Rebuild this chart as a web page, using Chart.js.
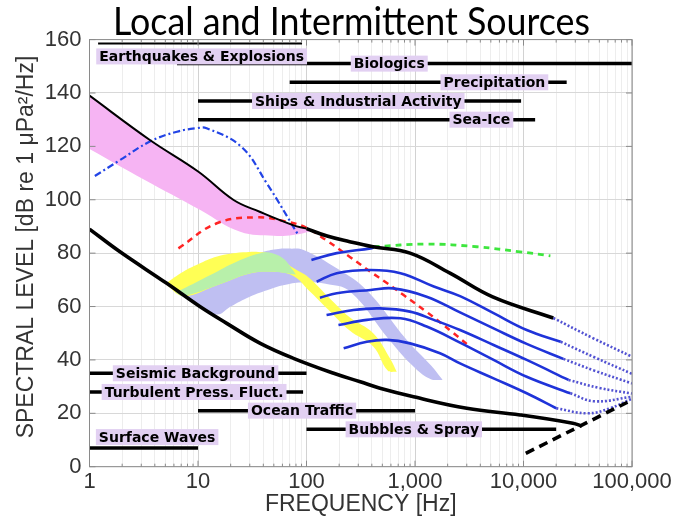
<!DOCTYPE html>
<html lang="en">
<head>
<meta charset="UTF-8">
<title>Local and Intermittent Sources</title>
<script src="https://cdn.jsdelivr.net/npm/chart.js"></script>
<style>
  html, body { margin: 0; padding: 0; background: #fff; }
  #wrap { width: 684px; height: 523px; }
</style>
</head>
<body>
<div id="wrap"><canvas id="wenz" width="684" height="523"></canvas></div>
<script>
// axis ticks
const xTickValues = [1, 10, 100, 1000, 10000, 100000];
const xTickLabels = ['1', '10', '100', '1,000', '10,000', '100,000'];
const yTickValues = [0, 20, 40, 60, 80, 100, 120, 140, 160];

// source bars (name, level dB, from Hz, to Hz)
const barNames = ['Earthquakes & Explosions', 'Biologics', 'Precipitation', 'Ships & Industrial Activity', 'Sea-Ice',
                  'Seismic Background', 'Turbulent Press. Fluct.', 'Ocean Traffic', 'Bubbles & Spray', 'Surface Waves'];
const barLevel = [158.5, 151, 144, 137, 130, 35, 28, 21, 14, 7];
const barFrom  = [1.2, 6.4, 70, 10, 10, 1, 1, 10, 100, 1];
const barTo    = [91, 100000, 25000, 9500, 12800, 100, 93, 1000, 20000, 10];
// where each bar's label sits (Hz, dB)
const labelFreq  = [10.8, 579, 5390, 300, 4090, 9.5, 9.2, 91, 975, 4.2];
const labelLevel = [153.7, 151, 144, 137, 130, 35, 28, 21, 14, 11.1];

// limits of prevailing noise (black curves)
const upperThinFreq  = [1, 3.6, 10.1, 21.3, 37, 75, 100];
const upperThinLevel = [139, 122.4, 110.5, 99.9, 95.5, 90.5, 89.2];
const upperFreq  = [100, 155, 250, 410, 900, 2100, 5200, 18800];
const upperLevel = [89.2, 86.4, 84.3, 82.4, 80, 72.5, 63.6, 55.7];
const upperDotFreq  = [18800, 44000, 100000];
const upperDotLevel = [55.7, 48.1, 41.2];
const lowerFreq  = [1, 1.91, 5.15, 10.4, 18.4, 37.5, 75.8, 178, 313, 476, 970, 3000, 9300, 28500, 34500];
const lowerLevel = [89, 80.5, 68.7, 60, 53.7, 46.2, 40.6, 35, 31.8, 29.4, 26.2, 21.9, 19.4, 16.3, 15.2];
const thermalFreq  = [10500, 100000];
const thermalLevel = [5, 25];

// pink band
const pinkTopFreq  = [1, 3.6, 10.1, 21.3, 37, 75, 100, 116];
const pinkTopLevel = [139, 122.4, 110.5, 99.9, 95.5, 90.5, 89.2, 88.4];
const pinkBotFreq  = [1, 3.2, 10.5, 24.5, 50, 75, 116];
const pinkBotLevel = [119, 107.5, 96.2, 88, 86.5, 86.8, 88.4];

// lavender band
const lavTopFreq  = [6.1, 7, 13, 22.7, 40, 55, 70, 94, 190, 360, 840, 1400, 1800];
const lavTopLevel = [65.5, 66.3, 71.8, 76.8, 80.5, 81.6, 81.7, 81.2, 74.3, 66, 47.5, 38, 32.5];
const lavBotFreq  = [6.1, 10, 15, 20, 30, 46, 61, 90, 150, 253, 580, 1000, 1400, 1800];
const lavBotLevel = [65.5, 60.5, 57, 60, 63.7, 66.5, 68, 69, 68.5, 65.5, 47.5, 37, 32.8, 32.5];

// yellow band
const yelTopFreq  = [5, 7.3, 10, 15, 26, 40, 55, 75, 104, 160, 250, 412, 600, 680];
const yelTopLevel = [68.5, 73, 75.8, 78.7, 80.3, 80.3, 78.5, 74.5, 71, 63.5, 56, 50, 40, 35.5];
const yelBotFreq  = [5, 7.3, 15, 30, 50, 75, 104, 160, 250, 412, 560, 680];
const yelBotLevel = [68.5, 64, 68, 72.4, 73, 71.5, 66.2, 58.7, 51, 45, 36, 35.5];

// green band (overlap)
const grnTopFreq  = [6.1, 7, 13, 22.7, 40, 50, 62, 72, 80];
const grnTopLevel = [65.5, 66.3, 71.8, 76.8, 80.2, 79.8, 77.8, 74.5, 72];
const grnBotFreq  = [6.1, 7.3, 15, 30, 50, 65, 80];
const grnBotLevel = [65.5, 64, 68, 72.4, 73, 72.5, 72];

// dashed curves
const redFreq  = [6.6, 14.9, 34.8, 66, 100, 150, 253, 390, 555, 785, 1280, 2270, 3200];
const redLevel = [81.8, 91.2, 93.4, 91.8, 89.5, 85, 78.5, 73, 68.7, 64.3, 58, 50, 45];
const dashDotFreq  = [1.12, 1.9, 3.6, 6.4, 9.7, 12, 25, 43, 84];
const dashDotLevel = [108.9, 114.8, 121.8, 125.5, 126.8, 126.8, 119.9, 106.2, 86.8];
const greenFreq  = [415, 1280, 3700, 9300, 17700];
const greenLevel = [82.4, 83.4, 82.4, 80.5, 79];

// wind-dependent blue curves
const blue1Freq = [111, 190, 390, 420];
const blue1Level = [77.4, 80, 81.8, 82.2];
const blue2Freq = [124, 190, 390, 735, 1490, 2600, 5300, 10700, 22000];
const blue2Level = [69.3, 72.5, 73.7, 72.5, 67.5, 63.9, 57.5, 51.2, 46.8];
const blue2DotFreq = [22000, 45000, 100000];
const blue2DotLevel = [46.8, 41, 34.8];
const blue3Freq = [133, 190, 390, 630, 1280, 2600, 5300, 10700, 23300];
const blue3Level = [63.3, 65, 66.2, 66.8, 63.7, 57.8, 51.8, 46, 40.4];
const blue3DotFreq = [23300, 45000, 100000];
const blue3DotLevel = [40.4, 36, 31.2];
const blue4Freq = [153, 271, 475, 900, 1490, 2600, 5300, 10700, 26000];
const blue4Level = [56.8, 58.7, 59.3, 58.1, 55, 51.2, 45.6, 40, 32.5];
const blue4DotFreq = [26000, 50000, 100000];
const blue4DotLevel = [32.5, 29.5, 27.4];
const blue5Freq = [197, 360, 735, 1280, 2600, 5300, 10700, 27000];
const blue5Level = [53.1, 55, 55.6, 52.5, 46.5, 40, 33.7, 27.5];
const blue5DotFreq = [27000, 45000, 100000];
const blue5DotLevel = [27.5, 24.5, 26.2];
const blue6Freq = [220, 360, 550, 900, 1700, 2600, 5300, 10700, 20000];
const blue6Level = [44.4, 46.8, 47.5, 46.2, 42.5, 38.7, 33.1, 27.5, 21.9];
const blue6DotFreq = [20000, 39000, 63000, 100000];
const blue6DotLevel = [21.9, 20, 21.9, 25.5];

function pts(f, l) {
    return f.map((v, i) => ({ x: v, y: l[i] }));
}

function curve(f, l, color, width, dash, order) {
    return {
        data: pts(f, l), borderColor: color, borderWidth: width, borderDash: dash || [],
        pointRadius: 0, fill: false, tension: 0.4, order: order
    };
}

// two datasets, the first fills down to the second
function band(ft, lt, fb, lb, color, order) {
    return [
        { data: pts(ft, lt), borderWidth: 0, borderColor: 'rgba(0,0,0,0)', backgroundColor: color,
          pointRadius: 0, fill: '+1', tension: 0.4, order: order },
        { data: pts(fb, lb), borderWidth: 0, borderColor: 'rgba(0,0,0,0)',
          pointRadius: 0, fill: false, tension: 0.4, order: order }
    ];
}

const BLUE = '#1f33d9';
const DOTS = '#5252d2';

const datasets = [];
datasets.push(...band(pinkTopFreq, pinkTopLevel, pinkBotFreq, pinkBotLevel, '#f6b4f3', 100));
datasets.push(...band(lavTopFreq, lavTopLevel, lavBotFreq, lavBotLevel, '#bfbff2', 90));
datasets.push(...band(yelTopFreq, yelTopLevel, yelBotFreq, yelBotLevel, '#ffff55', 80));
datasets.push(...band(grnTopFreq, grnTopLevel, grnBotFreq, grnBotLevel, '#b8f0aa', 70));

barNames.forEach((n, i) => {
    datasets.push({
        data: [{ x: barFrom[i], y: barLevel[i] }, { x: barTo[i], y: barLevel[i] }],
        borderColor: '#000', borderWidth: i === 0 ? 2 : 3.5, pointRadius: 0, fill: false, order: 60
    });
});

datasets.push(curve(redFreq, redLevel, '#ff2424', 2.5, [6, 5], 50));
datasets.push(curve(dashDotFreq, dashDotLevel, '#2244e6', 2.2, [7, 3, 2, 3], 50));
datasets.push(curve(greenFreq, greenLevel, '#3ee63e', 2.8, [6, 5], 45));

datasets.push(curve(blue1Freq, blue1Level, BLUE, 2.6, null, 40));
datasets.push(curve(blue2Freq, blue2Level, BLUE, 2.6, null, 40));
datasets.push(curve(blue3Freq, blue3Level, BLUE, 2.6, null, 40));
datasets.push(curve(blue4Freq, blue4Level, BLUE, 2.6, null, 40));
datasets.push(curve(blue5Freq, blue5Level, BLUE, 2.6, null, 40));
datasets.push(curve(blue6Freq, blue6Level, BLUE, 2.6, null, 40));
datasets.push(curve(upperDotFreq, upperDotLevel, DOTS, 2.6, [2, 2], 40));
datasets.push(curve(blue2DotFreq, blue2DotLevel, DOTS, 2.6, [2, 2], 40));
datasets.push(curve(blue3DotFreq, blue3DotLevel, DOTS, 2.6, [2, 2], 40));
datasets.push(curve(blue4DotFreq, blue4DotLevel, DOTS, 2.6, [2, 2], 40));
datasets.push(curve(blue5DotFreq, blue5DotLevel, DOTS, 2.6, [2, 2], 40));
datasets.push(curve(blue6DotFreq, blue6DotLevel, DOTS, 2.6, [2, 2], 40));

datasets.push(curve(upperThinFreq, upperThinLevel, '#000', 2, null, 30));
datasets.push(curve(upperFreq, upperLevel, '#000', 3.6, null, 30));
datasets.push(curve(lowerFreq, lowerLevel, '#000', 3.6, null, 30));
datasets.push(curve(thermalFreq, thermalLevel, '#000', 3.6, [9, 6], 30));

// box, inner ticks, labels and titles
const decorations = {
    id: 'decorations',
    afterDatasetsDraw(chart) {
        const { ctx, chartArea: a, scales: { x, y } } = chart;
        ctx.save();
        // bar labels
        ctx.font = 'bold 14px "DejaVu Sans"';
        ctx.textAlign = 'center';
        ctx.textBaseline = 'middle';
        barNames.forEach((n, i) => {
            const cx = x.getPixelForValue(labelFreq[i]);
            const cy = y.getPixelForValue(labelLevel[i]);
            const w = ctx.measureText(n).width + 6;
            ctx.fillStyle = '#e2d0f2';
            ctx.fillRect(cx - w / 2, cy - 8, w, 16);
            ctx.fillStyle = '#000';
            ctx.fillText(n, cx, cy + 1);
        });
        // frame and inward ticks
        ctx.strokeStyle = '#8a8a8a';
        ctx.lineWidth = 1;
        ctx.strokeRect(a.left, a.top, a.right - a.left, a.bottom - a.top);
        ctx.beginPath();
        x.ticks.forEach(t => {
            const px = x.getPixelForValue(t.value);
            const len = xTickValues.includes(t.value) ? 6 : 3;
            ctx.moveTo(px, a.bottom); ctx.lineTo(px, a.bottom - len);
            ctx.moveTo(px, a.top); ctx.lineTo(px, a.top + len);
        });
        yTickValues.forEach(v => {
            const py = y.getPixelForValue(v);
            ctx.moveTo(a.left, py); ctx.lineTo(a.left + 6, py);
            ctx.moveTo(a.right, py); ctx.lineTo(a.right - 6, py);
        });
        ctx.stroke();
        ctx.restore();
    },
    afterDraw(chart) {
        const { ctx, chartArea: a } = chart;
        ctx.save();
        ctx.fillStyle = '#333';
        ctx.font = '23px "Liberation Sans"';
        ctx.textAlign = 'center';
        ctx.textBaseline = 'middle';
        ctx.fillText('FREQUENCY [Hz]', (a.left + a.right) / 2, 505);
        ctx.translate(27, 247);
        ctx.rotate(-Math.PI / 2);
        ctx.fillText('SPECTRAL LEVEL [dB re 1 \u03bcPa\u00b2/Hz]', 0, 0);
        ctx.restore();
        // slide title
        ctx.save();
        ctx.font = '38px Lato';
        ctx.fillStyle = '#000';
        ctx.textBaseline = 'alphabetic';
        const t = 'Local and Intermittent Sources';
        const sx = 477 / ctx.measureText(t).width;
        ctx.translate(113, 35);
        ctx.scale(sx, 1);
        ctx.fillText(t, 0, 0);
        ctx.restore();
    }
};

new Chart(document.getElementById('wenz'), {
    type: 'line',
    data: { datasets: datasets },
    options: {
        responsive: false,
        animation: false,
        devicePixelRatio: 1,
        layout: { padding: { left: 0, right: 52, top: 39.6, bottom: 0 } },
        plugins: { legend: { display: false }, tooltip: { enabled: false }, title: { display: false } },
        scales: {
            x: {
                type: 'logarithmic', min: 1, max: 100000,
                afterFit: s => { s.height = 56.3; },
                afterBuildTicks: s => {
                    const ticks = [];
                    for (let d = 1; d < 100000; d *= 10) {
                        for (let m = 1; m < 10; m++) ticks.push({ value: m * d });
                    }
                    ticks.push({ value: 100000 });
                    s.ticks = ticks;
                },
                ticks: {
                    autoSkip: false, maxRotation: 0, padding: 2,
                    font: { family: 'Liberation Sans', size: 22 }, color: '#333',
                    callback: v => {
                        const i = xTickValues.indexOf(v);
                        return i >= 0 ? xTickLabels[i] : '';
                    }
                },
                grid: {
                    drawTicks: false,
                    color: c => (c.tick && xTickValues.includes(c.tick.value)) ? '#d2d2d2' : '#ededed'
                },
                border: { display: false }
            },
            y: {
                min: 0, max: 160,
                afterFit: s => { s.width = 89.5; },
                afterBuildTicks: s => { s.ticks = yTickValues.map(v => ({ value: v })); },
                ticks: { padding: 8, font: { family: 'Liberation Sans', size: 22 }, color: '#333' },
                grid: { drawTicks: false, color: '#d8d8d8' },
                border: { display: false }
            }
        }
    },
    plugins: [decorations]
});
</script>
</body>
</html>
